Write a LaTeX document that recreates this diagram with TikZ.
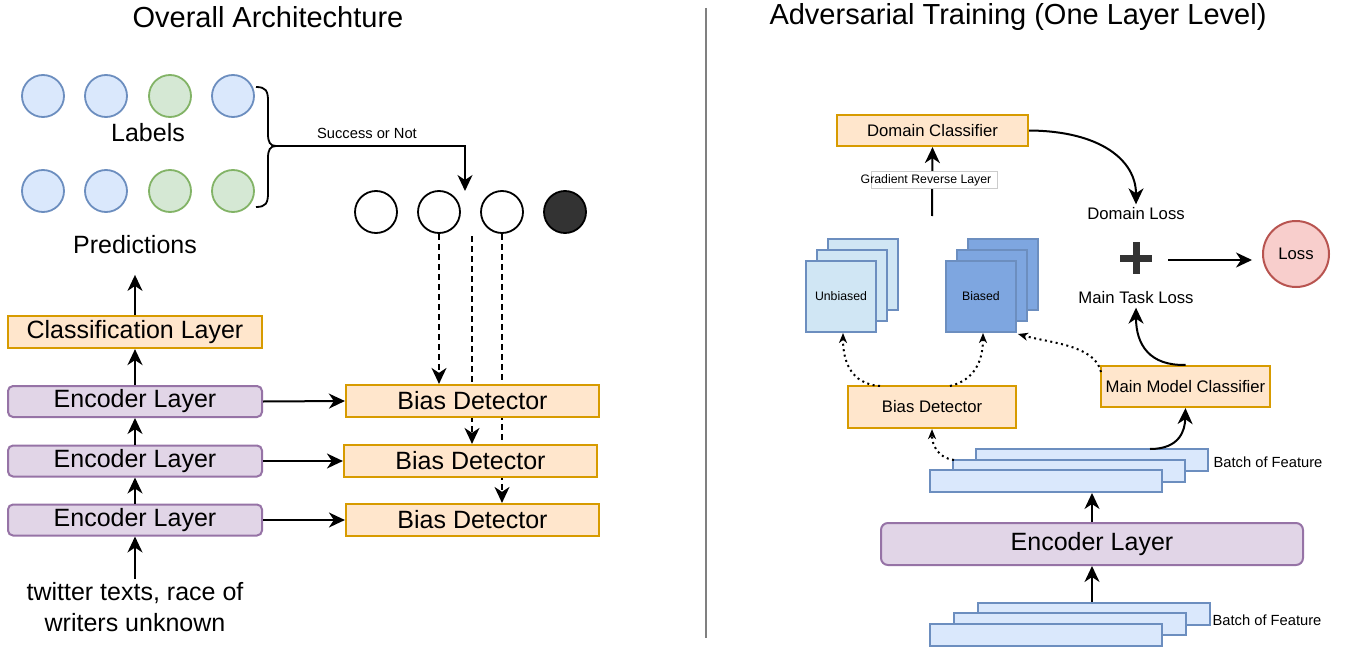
\documentclass[tikz,border=0pt]{standalone}
\usepackage{fontspec}
\setmainfont{Liberation Sans}
\usetikzlibrary{arrows.meta,backgrounds}
\definecolor{bluefill}{HTML}{DAE8FC}
\definecolor{blueline}{HTML}{6C8EBF}
\definecolor{greenfill}{HTML}{D5E8D4}
\definecolor{greenline}{HTML}{82B366}
\definecolor{orangefill}{HTML}{FFE6CC}
\definecolor{orangeline}{HTML}{D79B00}
\definecolor{purplefill}{HTML}{E1D5E7}
\definecolor{purpleline}{HTML}{9673A6}
\definecolor{unbfill}{HTML}{D0E6F4}
\definecolor{biasfill}{HTML}{7EA6E0}
\definecolor{lossfill}{HTML}{F8CECC}
\definecolor{lossline}{HTML}{B85450}
\newcommand\szTitle{\fontsize{29}{34}\selectfont}
\newcommand\szMain{\fontsize{25}{31}\selectfont}
\newcommand\szMid{\fontsize{16.7}{20}\selectfont}
\newcommand\szSmall{\fontsize{14.7}{18}\selectfont}
\newcommand\szTiny{\fontsize{12.3}{15}\selectfont}
\begin{document}
\begin{tikzpicture}[x=1pt,y=-1pt,
	arr/.style={-{Stealth[length=16pt,width=15pt,inset=5pt]},line width=2pt},
	dasharr/.style={arr,dash pattern=on 6pt off 4pt},
	dotarr/.style={-{Stealth[length=10pt,width=8pt,inset=3pt]},line width=2pt,dash pattern=on 2pt off 3.5pt},
	orangebox/.style={draw=orangeline,fill=orangefill,line width=2.2pt,inner sep=0pt},
	encbox/.style={draw=purpleline,fill=purplefill,line width=2pt,rounded corners=5pt,inner sep=0pt},
	bubble/.style={circle,line width=1.8pt,minimum size=42pt,inner sep=0pt},
	bluedot/.style={bubble,draw=blueline,fill=bluefill},
	greendot/.style={bubble,draw=greenline,fill=greenfill},
	stackbox/.style={draw=blueline,line width=2pt,minimum width=70pt,minimum height=71pt,inner sep=0pt},
	batchbox/.style={draw=blueline,fill=bluefill,line width=2pt,minimum width=232pt,minimum height=22pt,inner sep=0pt}]
		\useasboundingbox (0,0) rectangle (1348,650);
		\node[font=\szTitle] (ltitle) at (268,17) {Overall Architechture};
		\node[font=\szTitle] (rtitle) at (1018,17) {Adversarial Training (One Layer Level)};
		\draw[line width=2pt,gray] (706,8) -- (706,638);
		% labels and predictions
		\node[bluedot] (l1) at (43,96) {};
		\node[bluedot] (l2) at (106,96) {};
		\node[greendot] (l3) at (170,96) {};
		\node[bluedot] (l4) at (233,96) {};
		\node[bluedot] (p1) at (43,191) {};
		\node[bluedot] (p2) at (106,191) {};
		\node[greendot] (p3) at (170,191) {};
		\node[greendot] (p4) at (233,191) {};
		\node[font=\szMain] (labels) at (148,133) {Labels};
		\node[font=\szMain] (preds) at (135,245) {Predictions};
		\draw[line width=1.8pt] (256,87) .. controls (266,87) and (268,91) .. (268,101) -- (268,134)
			.. controls (268,142) and (270,146) .. (276,146) coordinate (bracetip)
			.. controls (270,146) and (268,150) .. (268,158) -- (268,193)
			.. controls (268,203) and (266,207) .. (256,207);
		\foreach \n/\x in {1/376,2/439,3/502} \node[bubble,draw=black,fill=white] (d\n) at (\x,212) {};
		\node[bubble,draw=black,fill=black!80] (d4) at (565,212) {};
		\coordinate (succ) at (465,191);
		\draw[arr] (bracetip) -| (succ);
		\node[font=\szSmall] (succlab) at (367,133) {Success or Not};
		% left column
		\node[orangebox,minimum width=254pt,minimum height=32pt,font=\szMain] (cls) at (135,332) {Classification Layer};
		\node[encbox,minimum width=254pt,minimum height=31pt,font=\szMain] (enc1) at (135,401.5) {Encoder Layer};
		\node[encbox,minimum width=254pt,minimum height=31pt,font=\szMain] (enc2) at (135,461) {Encoder Layer};
		\node[encbox,minimum width=254pt,minimum height=31pt,font=\szMain] (enc3) at (135,520) {Encoder Layer};
		\node[orangebox,minimum width=253pt,minimum height=32pt,font=\szMain] (bd1) at (472.5,401) {Bias Detector};
		\node[orangebox,minimum width=253pt,minimum height=32pt,font=\szMain] (bd2) at (470.5,461) {Bias Detector};
		\node[orangebox,minimum width=253pt,minimum height=32pt,font=\szMain] (bd3) at (472.5,520) {Bias Detector};
		\node[font=\szMain,align=center] (inp) at (135,607) {twitter texts, race of\\writers unknown};
		\draw[arr] (inp.north) -- (enc3.south);
		\draw[arr] (enc3.north) -- (enc2.south);
		\draw[arr] (enc2.north) -- (enc1.south);
		\draw[arr] (enc1.north) -- (cls.south);
		\draw[arr] (cls.north) -- ++(0,-40);
		\draw[arr] (enc1.east) -- (bd1.west);
		\draw[arr] (enc2.east) -- (bd2.west);
		\draw[arr] (enc3.east) -- (bd3.west);
		\coordinate (gap) at (472,236);
		\begin{scope}[on background layer]
			\draw[dasharr] (d2.south) -- (d2.south |- bd1.north);
			\draw[dasharr] (gap) -- (gap |- bd2.north);
			\draw[dasharr] (d3.south) -- (d3.south |- bd3.north);
		\end{scope}
		% right panel
		\node[orangebox,minimum width=191pt,minimum height=31pt,font=\szMid] (dc) at (932.5,130.5) {Domain Classifier};
		\coordinate (grlstart) at (932,216);
		\draw[arr] (grlstart) -- (dc.south);
		\draw[gray!40,fill=white,line width=0.8pt] (871,171) rectangle (997,188);
		\node[inner sep=1pt,font=\szTiny] (grl) at (926,180) {Gradient Reverse Layer};
		\node[font=\szMid] (dl) at (1136,214) {Domain Loss};
		\node[font=\szMid] (mtl) at (1136,298) {Main Task Loss};
		\draw[arr] (dc.east) .. controls (1100,131) and (1136,160) .. (dl.north);
		\draw[line width=7pt,black!80] (1120,258) -- (1152,258) (1136,242) -- (1136,274);
		\coordinate (plus) at (1168,260);
		\node[circle,draw=lossline,fill=lossfill,line width=2pt,minimum size=66pt,font=\szMid] (loss) at (1296,254) {Loss};
		\draw[arr] (plus) -- (loss.west |- plus) [shorten >=10pt];
		\foreach \n/\d in {3/22,2/11,1/0} {
			\node[stackbox,fill=unbfill] (unb\n) at ({841+\d},{296.5-\d}) {};
			\node[stackbox,fill=biasfill] (bia\n) at ({981+\d},{296.5-\d}) {};
		}
		\node[font=\szTiny] at (unb1) {Unbiased};
		\node[font=\szTiny] at (bia1) {Biased};
		\node[orangebox,minimum width=168pt,minimum height=42pt,font=\szMid] (bdr) at (932,407) {Bias Detector};
		\node[orangebox,minimum width=169pt,minimum height=41pt,font=\szMid] (mmc) at (1185.5,386.5) {Main Model Classifier};
		\foreach \n/\d in {3/2,2/1,1/0} {
			\node[batchbox] (ub\n) at ({1046+23*\d},{481-10.5*\d}) {};
			\node[batchbox] (lb\n) at ({1046+24*\d},{634.5-10.5*\d}) {};
		}
		\node[font=\szSmall] (ubl) at (1268,462) {Batch of Feature};
		\node[font=\szSmall] (lbl) at (1267,620) {Batch of Feature};
		\node[encbox,minimum width=422pt,minimum height=42pt,rounded corners=7pt,font=\szMain] (encr) at (1092,544) {Encoder Layer};
		\draw[arr] (encr.south |- lb3.north) -- (encr.south);
		\draw[arr] (encr.north) -- (encr.north |- ub1.south);
		\draw[arr] (1150,449) .. controls (1180,449) and (1185,430) .. (mmc.south);
		\draw[arr] (mmc.north) .. controls (1150,366) and (1136,345) .. (mtl.south);
		\draw[dotarr] (880,386) .. controls (850,384) and (843,360) .. (843,333);
		\draw[dotarr] (950,386) .. controls (975,380) and (983,360) .. (983,333);
		\draw[dotarr] (1101,372) .. controls (1095,345) and (1050,343) .. (1018,334);
		\draw[dotarr] (954,460) .. controls (938,458) and (932,445) .. (bdr.south);
	\end{tikzpicture}
\end{document}
